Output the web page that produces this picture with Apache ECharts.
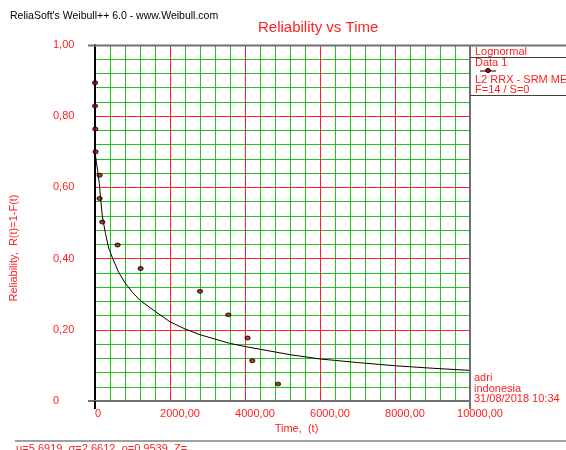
<!DOCTYPE html>
<html><head><meta charset="utf-8">
<script src="https://cdn.jsdelivr.net/npm/echarts@6/dist/echarts.min.js"></script>
<style>html,body{margin:0;padding:0;background:#fff}#c{width:566px;height:450px}</style>
</head><body><div id="c"></div>
<script>
const timeData = [1, 2, 8, 15, 123, 123, 195, 603, 1216, 2800, 3555, 4069, 4195, 4880];
const reliabilityData = [0.894, 0.829, 0.764, 0.700, 0.634, 0.569, 0.503, 0.438, 0.372, 0.308, 0.242, 0.177, 0.113, 0.048];
const curveTime = [0, 2, 5, 10, 16, 40, 69, 115, 149, 195, 275, 363, 480, 629, 800, 1000, 1208, 1653, 2008, 2408, 2808, 3555, 4000, 5208, 6008, 7000, 8008, 9000, 10000];
const curveReliability = [1.0, 0.93, 0.84, 0.75, 0.688, 0.668, 0.648, 0.610, 0.570, 0.519, 0.473, 0.430, 0.398, 0.362, 0.332, 0.305, 0.282, 0.248, 0.222, 0.202, 0.186, 0.163, 0.153, 0.130, 0.118, 0.108, 0.099, 0.092, 0.086];
const xTickLabels = ['0', '2000,00', '4000,00', '6000,00', '8000,00', '10000,00'];
const yTickLabels = ['0', '0,20', '0,40', '0,60', '0,80', '1,00'];
const legendLines = ['Lognormal', 'Data 1', 'L2 RRX - SRM MED', 'F=14 / S=0'];
const footerLines = ['adri', 'indonesia', '31/08/2018 10:34'];
const paramText = 'μ=5,6919, σ=2,6612, ρ=0,9539, Z=';

const FONT = 'Liberation Sans';
const RED = '#ff2020';
const GREEN = '#22c422';
const GL = 95, GT = 45, GW = 375, GH = 356;

const chart = echarts.init(document.getElementById('c'));
const scatterData = timeData.map((t, i) => [t, reliabilityData[i]]);
const curveData = curveTime.map((t, i) => [t, curveReliability[i]]);

const txt = (x, y, s, opt) => Object.assign({type: 'text', x: x, y: y, z: 100, silent: true,
  style: Object.assign({text: s, fill: RED, font: '11px "' + FONT + '"', textVerticalAlign: 'middle'}, opt || {})});
const ln = (x1, y1, x2, y2, c, w) => ({type: 'line', z: 100, silent: true, shape: {x1: x1, y1: y1, x2: x2, y2: y2}, style: {stroke: c, lineWidth: w}});

chart.setOption({
  animation: false,
  textStyle: {fontFamily: FONT},
  title: [
    {text: 'Reliability vs Time', left: 258, top: 20, padding: 0, textStyle: {color: RED, fontSize: 15, fontWeight: 'normal', fontFamily: FONT}},
    {text: "ReliaSoft's Weibull++ 6.0 - www.Weibull.com", left: 10, top: 11, padding: 0, textStyle: {color: '#000', fontSize: 10.5, fontWeight: 'normal', fontFamily: FONT}}
  ],
  grid: {left: GL, top: GT, width: GW, height: GH, containLabel: false},
  xAxis: [
    {type: 'value', min: 0, max: 10000, interval: 400, z: 1,
      axisLine: {show: false}, axisTick: {show: false}, axisLabel: {show: false},
      splitLine: {show: true, lineStyle: {color: GREEN, width: 1}}},
    {type: 'value', min: 0, max: 10000, interval: 2000, position: 'bottom', z: 2,
      axisLine: {show: true, onZero: false, lineStyle: {color: '#707070', width: 2}},
      axisTick: {show: false},
      axisLabel: {show: true, margin: 7, color: RED, fontSize: 11, fontFamily: FONT,
        formatter: function (v) {
          const i = Math.round(v / 2000); const s = xTickLabels[i];
          return i === 0 ? '{q| }{v|' + s + '}' : '{p| }{v|' + s + '}';
        },
        rich: {p: {width: 20}, q: {width: 6}, v: {color: RED, fontSize: 11, fontFamily: FONT}}},
      splitLine: {show: true, lineStyle: {color: RED, width: 1}},
      name: 'Time,  (t)', nameLocation: 'middle', nameGap: 19,
      nameTextStyle: {color: RED, fontSize: 11, fontFamily: FONT, padding: [0, 0, 0, 28]}}
  ],
  yAxis: [
    {type: 'value', min: 0, max: 1, interval: 0.04, z: 1,
      axisLine: {show: false}, axisTick: {show: false}, axisLabel: {show: false},
      splitLine: {show: true, lineStyle: {color: GREEN, width: 1}}},
    {type: 'value', min: 0, max: 1, interval: 0.2, position: 'left', z: 2,
      axisLine: {show: true, onZero: false, lineStyle: {color: '#000', width: 2}},
      axisTick: {show: false},
      axisLabel: {show: true, margin: 42, align: 'left', color: RED, fontSize: 11, fontFamily: FONT,
        formatter: function (v) { return yTickLabels[Math.round(v / 0.2)]; }},
      splitLine: {show: true, lineStyle: {color: RED, width: 1}},
      name: 'Reliability,  R(t)=1-F(t)', nameLocation: 'middle', nameGap: 76,
      nameTextStyle: {color: RED, fontSize: 11, fontFamily: FONT, padding: [0, 50, 0, 0]}}
  ],
  series: [
    {type: 'line', name: 'Lognormal', xAxisIndex: 1, yAxisIndex: 1, data: curveData,
      showSymbol: false, smooth: false, z: 5,
      lineStyle: {color: '#000', width: 1}},
    {type: 'scatter', name: 'Data 1', xAxisIndex: 1, yAxisIndex: 1, data: scatterData,
      symbol: 'circle', symbolSize: [5, 4], z: 6, clip: false,
      itemStyle: {color: '#b00000', borderColor: '#000', borderWidth: 1}}
  ],
  graphic: [
    ln(88, GT + 0.5, 566, GT + 0.5, '#707070', 2),
    ln(GL + GW, GT, GL + GW, 409, '#707070', 2),
    ln(88, GT + GH, GL, GT + GH, '#707070', 2),
    ln(GL, GT + GH, GL, 409, '#000', 2),
    ln(GL + GW, 57.5, 566, 57.5, '#404040', 1),
    ln(GL + GW, 95.5, 566, 95.5, '#404040', 1),
    txt(475, 51.5, legendLines[0]),
    txt(475, 63, legendLines[1]),
    ln(480, 71, 496, 71, '#000', 1),
    {type: 'ellipse', z: 101, silent: true, shape: {cx: 488, cy: 70.5, rx: 2.5, ry: 2}, style: {fill: '#b00000', stroke: '#000', lineWidth: 1}},
    txt(475, 80, legendLines[2]),
    txt(475, 89.5, legendLines[3]),
    txt(474, 378, footerLines[0]),
    txt(474, 388.5, footerLines[1]),
    txt(474, 399, footerLines[2]),
    ln(15, 441, 566, 441, '#808080', 1.5),
    txt(16, 449, paramText)
  ]
});
</script></body></html>
